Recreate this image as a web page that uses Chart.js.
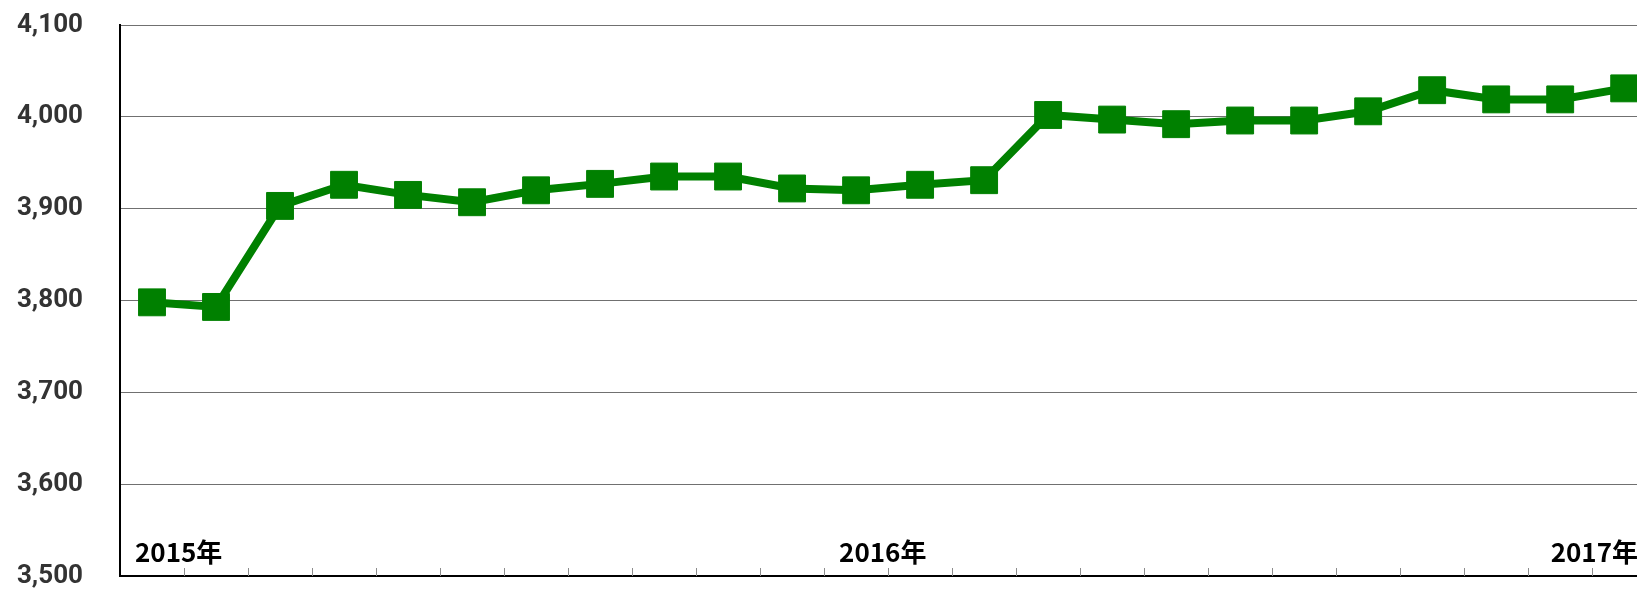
<!DOCTYPE html>
<html>
<head>
<meta charset="utf-8">
<script src="https://cdn.jsdelivr.net/npm/chart.js@4/dist/chart.umd.min.js"></script>
<style>
  html, body { margin: 0; padding: 0; background: #fff; overflow: hidden; }
</style>
</head>
<body>
<canvas id="grafico" width="1637" height="590"></canvas>
<script>
// Meses (um rótulo por ponto, só o início do ano aparece)
const categorias = ['2015年', '', '', '', '', '', '', '', '', '', '',
  '2016年', '', '', '', '', '', '', '', '', '', '', '', '2017年'];

// Valores da série
const valores = [3798, 3793, 3903, 3926, 3915, 3907, 3920, 3927, 3935, 3935, 3922, 3920,
  3926, 3931, 4002, 3997, 3992, 3996, 3996, 4006, 4029, 4019, 4019, 4031];

// Eixo Y
const yMin = 3500;
const yMax = 4100;
const yPasso = 100;

// Eixo X (índice do mês); o original é cortado no meio do último mês
const xMin = -0.5;
const xMax = 23.2;

const verde = '#008000';

// Marcas curtas do eixo X (para dentro) e rótulos dos anos
const marcasEixoX = {
  id: 'marcasEixoX',
  afterDatasetsDraw(chart) {
    const { ctx, chartArea, scales: { x } } = chart;
    ctx.save();
    ctx.strokeStyle = '#8c8c8c';
    ctx.lineWidth = 1;
    for (let i = 1; i < categorias.length; i++) {
      const px = Math.round(x.getPixelForValue(i - 0.5)) + 0.5;
      ctx.beginPath();
      ctx.moveTo(px, chartArea.bottom);
      ctx.lineTo(px, chartArea.bottom - 8);
      ctx.stroke();
    }
    ctx.fillStyle = '#000';
    ctx.font = 'bold 26px "Noto Sans CJK JP", sans-serif';
    ctx.textAlign = 'left';
    ctx.textBaseline = 'alphabetic';
    categorias.forEach((txt, i) => {
      if (!txt) return;
      const w = ctx.measureText(txt).width;
      let px = x.getPixelForValue(i) - 17;
      px = Math.min(px, chart.width - w + 1); // cabe no canvas
      ctx.fillText(txt, px, chartArea.bottom - 14);
    });
    ctx.restore();
  }
};

const ctx = document.getElementById('grafico').getContext('2d');
new Chart(ctx, {
  type: 'line',
  data: {
    datasets: [{
      data: valores.map((v, i) => ({ x: i, y: v })),
      borderColor: verde,
      backgroundColor: verde,
      borderWidth: 8,
      pointStyle: 'rect',
      pointRadius: 19,
      pointBorderWidth: 1,
      pointBorderColor: verde,
      pointBackgroundColor: verde,
      tension: 0,
      clip: false
    }]
  },
  options: {
    responsive: false,
    animation: false,
    layout: { autoPadding: false, padding: { top: 25, right: 0, left: 0, bottom: 0 } },
    plugins: { legend: { display: false }, tooltip: { enabled: false } },
    scales: {
      x: {
        type: 'linear',
        min: xMin,
        max: xMax,
        grid: { display: false },
        border: { display: true, color: '#000', width: 2 },
        ticks: { display: false },
        afterFit: s => { s.height = 14; }
      },
      y: {
        min: yMin,
        max: yMax,
        border: { display: true, color: '#000', width: 2 },
        grid: { color: '#707070', lineWidth: 1, drawTicks: true, tickLength: 37, tickColor: 'rgba(0,0,0,0)' },
        ticks: {
          stepSize: yPasso,
          padding: 0,
          color: '#333',
          font: { family: 'Roboto', size: 26, weight: 'bold', lineHeight: 1 },
          callback: v => v.toLocaleString('en-US')
        },
        afterFit: s => { s.width = 120; }
      }
    }
  },
  plugins: [marcasEixoX]
});
</script>
</body>
</html>
